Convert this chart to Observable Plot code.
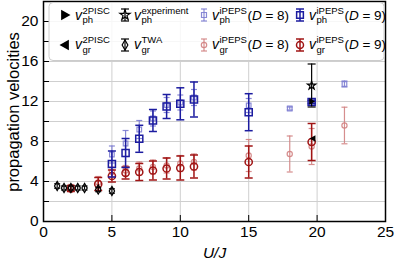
<!DOCTYPE html>
<html><head><meta charset="utf-8">
<script src="https://cdn.jsdelivr.net/npm/d3@7"></script>
<script src="https://cdn.jsdelivr.net/npm/@observablehq/plot@0.6"></script>
<style>
body{margin:0;background:#fff;}
svg{font-family:"Liberation Sans",Arial,sans-serif;}
g[aria-label="x-axis label"] text{font-style:italic;}
</style>
</head><body><div id="chart"></div>
<script>
// ---- data ----
const U_ph_D9 = [5, 6, 7, 8, 9, 10, 11, 15, 19.6];
const v_ph_D9 = [5.75, 6.85, 8.27, 10.1, 11.5, 11.77, 12.2, 10.93, 11.95];
const e_ph_D9 = [1.3, 1.45, 1.35, 1.1, 1.2, 1.6, 1.75, 1.85, 0.15];

const U_ph_D8 = [5, 6, 7, 8, 9, 10, 11, 15, 18, 19.6, 22];
const v_ph_D8 = [6.7, 7.8, 9.2, 10.3, 11.65, 11.9, 12.4, 11.6, 11.3, 12.0, 13.75];
const e_ph_D8 = [0.85, 1.3, 0.9, 0.75, 0.75, 0.75, 0.8, 0.7, 0.15, 0.15, 0.3];

const U_gr_D9 = [2, 4, 5, 6, 7, 8, 9, 10, 11, 15, 19.6];
const v_gr_D9 = [3.3, 3.75, 4.55, 4.85, 4.95, 5.1, 5.3, 5.35, 5.5, 5.95, 7.95];
const e_gr_D9 = [0.3, 0.65, 0.6, 0.6, 0.85, 0.95, 1.05, 1.2, 1.15, 1.6, 1.85];

const U_gr_D8 = [2, 4, 5, 6, 7, 8, 9, 10, 11, 15, 18, 19.6, 22];
const v_gr_D8 = [3.4, 3.9, 4.95, 5.1, 5.3, 5.45, 5.6, 5.8, 5.95, 6.6, 6.75, 7.5, 9.6];
const e_gr_D8 = [0.3, 0.6, 0.5, 0.5, 0.65, 0.7, 0.75, 0.8, 0.8, 1.6, 1.8, 1.8, 1.83];

const U_TWA = [1, 1.5, 2, 2.5, 3, 4, 5];
const v_TWA = [3.55, 3.35, 3.35, 3.35, 3.35, 3.2, 3.05];
const e_TWA = [0.22, 0.2, 0.2, 0.2, 0.2, 0.22, 0.22];

const U_exp = [19.6];
const v_exp = [13.6];
const e_exp = [2.15];

const U_ph_2PISC = [19.6];
const v_ph_2PISC = [12.0];
const U_gr_2PISC = [19.7];
const v_gr_2PISC = [8.3];

const xTicks = [0, 5, 10, 15, 20, 25];
const xGrid = [5, 10, 15, 20];
const yTicks = [0, 4, 8, 12, 16, 20];
const yGrid = [2, 4, 6, 8, 10, 12, 14, 16, 18, 20];

// ---- colours ----
const C_D9_ph = "#1c1ca0", C_D8_ph = "#7d7dd2";
const C_D9_gr = "#a01414", C_D8_gr = "#d28282";

const rows = (U, v, e) => U.map((u, i) => ({u, v: v[i], lo: e ? v[i] - e[i] : v[i], hi: e ? v[i] + e[i] : v[i]}));

// custom symbols
const hbar = {draw(c, s) { const w = Math.sqrt(s / Math.PI); c.moveTo(-w, 0); c.lineTo(w, 0); }};
const triR = {draw(c, s) { const r = Math.sqrt(s / Math.PI); c.moveTo(r, 0); c.lineTo(-r * 0.7, -r * 0.95); c.lineTo(-r * 0.7, r * 0.95); c.closePath(); }};
const triL = {draw(c, s) { const r = Math.sqrt(s / Math.PI); c.moveTo(-r, 0); c.lineTo(r * 0.7, -r * 0.95); c.lineTo(r * 0.7, r * 0.95); c.closePath(); }};

function errMarks(data, color, capR, sw, symbol, r, opacity = 1) {
  return [
    Plot.ruleX(data, {x: "u", y1: "lo", y2: "hi", stroke: color, strokeWidth: sw, strokeOpacity: opacity}),
    Plot.dot(data, {x: "u", y: "lo", symbol: hbar, r: capR, stroke: color, strokeWidth: sw, strokeOpacity: opacity}),
    Plot.dot(data, {x: "u", y: "hi", symbol: hbar, r: capR, stroke: color, strokeWidth: sw, strokeOpacity: opacity}),
    Plot.dot(data, {x: "u", y: "v", symbol, r, stroke: color, strokeWidth: sw, fill: "none", strokeOpacity: opacity})
  ];
}

const W = 395, H = 263, mL = 43, mR = 10, mT = 1, mB = 42;
const fw = W - mL - mR, fh = H - mT - mB;

const chart = Plot.plot({
  width: W, height: H,
  marginLeft: mL, marginRight: mR, marginTop: mT, marginBottom: mB,
  style: {fontSize: "15px", fontFamily: "Liberation Sans, Arial, sans-serif", color: "black", background: "white"},
  x: {domain: [0, 25]},
  y: {domain: [0, 22]},
  marks: [
    Plot.gridY(yGrid, {stroke: "#cfcfcf", strokeOpacity: 1}),
    Plot.gridX(xGrid, {stroke: "#cfcfcf", strokeOpacity: 1}),
    Plot.tickY(yGrid, {y: d => d, stroke: "black", insetRight: fw - 6}),
    Plot.tickX(xTicks, {x: d => d, stroke: "black", insetTop: fh - 6}),
    Plot.axisY(yTicks, {tickSize: 0, tickPadding: 5, label: null, fontSize: 15.5}),
    Plot.axisX(xTicks, {tickSize: 0, tickPadding: 4, label: "U/J", labelAnchor: "center", labelArrow: "none", labelOffset: 36, fontSize: 15.5}),
    ...errMarks(rows(U_gr_D8, v_gr_D8, e_gr_D8), C_D8_gr, 3, 1.2, "circle", 2.6, 0.9),
    ...errMarks(rows(U_ph_D8, v_ph_D8, e_ph_D8), C_D8_ph, 3, 1.2, "square", 2.6, 0.9),
    ...errMarks(rows(U_gr_D9, v_gr_D9, e_gr_D9), C_D9_gr, 4, 1.5, "circle", 3.6),
    ...errMarks(rows(U_ph_D9, v_ph_D9, e_ph_D9), C_D9_ph, 4, 1.5, "square", 4),
    ...errMarks(rows(U_TWA, v_TWA, e_TWA), "black", 3, 1.2, "diamond", 2.8),
    ...errMarks(rows(U_exp, v_exp, e_exp), "black", 4, 1.2, "star", 2.6),
    Plot.dot(rows(U_ph_2PISC, v_ph_2PISC), {x: "u", y: "v", symbol: triR, r: 3.5, fill: "black"}),
    Plot.dot(rows(U_gr_2PISC, v_gr_2PISC), {x: "u", y: "v", symbol: triL, r: 3.5, fill: "black"}),
    Plot.frame({stroke: "black", strokeWidth: 1.5})
  ]
});
document.getElementById("chart").appendChild(chart);

const svg = d3.select(chart);
// y-axis title
svg.append("text").attr("transform", `translate(${19},${(mT + H - mB) / 2 + 1}) rotate(-90)`)
  .attr("text-anchor", "middle").attr("font-size", 16.5).attr("fill", "black").text("propagation velocities");

// ---- legend (inside the frame, top) ----
const legendItems = [
  {col: 0, row: 0, sym: "triR", sup: "2PISC", sub: "ph", tail: null},
  {col: 0, row: 1, sym: "triL", sup: "2PISC", sub: "gr", tail: null},
  {col: 1, row: 0, sym: "star", sup: "experiment", sub: "ph", tail: null},
  {col: 1, row: 1, sym: "diamond", sup: "TWA", sub: "gr", tail: null},
  {col: 2, row: 0, sym: "sqD8", sup: "iPEPS", sub: "ph", tail: "8"},
  {col: 2, row: 1, sym: "ciD8", sup: "iPEPS", sub: "gr", tail: "8"},
  {col: 3, row: 0, sym: "sqD9", sup: "iPEPS", sub: "ph", tail: "9"},
  {col: 3, row: 1, sym: "ciD9", sup: "iPEPS", sub: "gr", tail: "9"}
];
const colSym = [65, 125, 204, 300], colText = [75, 134, 212, 309];
const rowSym = [15, 45], rowBase = [19.5, 49];

const L = svg.append("g").attr("font-family", "Liberation Sans, Arial, sans-serif").attr("text-anchor", "start").attr("fill", "black");
L.append("rect").attr("x", 49).attr("y", 2.5).attr("width", 335).attr("height", 58).attr("rx", 4)
  .attr("fill", "white").attr("fill-opacity", 0.82).attr("stroke", "#cccccc").attr("stroke-width", 1);

function errGlyph(g, cx, cy, color, half, capW, sw, op) {
  g.append("line").attr("x1", cx).attr("x2", cx).attr("y1", cy - half).attr("y2", cy + half).attr("stroke", color).attr("stroke-width", sw).attr("stroke-opacity", op);
  for (const s of [-1, 1]) g.append("line").attr("x1", cx - capW).attr("x2", cx + capW).attr("y1", cy + s * half).attr("y2", cy + s * half).attr("stroke", color).attr("stroke-width", sw).attr("stroke-opacity", op);
}
function symPath(type, r) { return d3.symbol(type, Math.PI * r * r)(); }

for (const it of legendItems) {
  const cx = colSym[it.col], cy = rowSym[it.row];
  const g = L.append("g");
  if (it.sym === "triR" || it.sym === "triL") {
    g.append("path").attr("d", symPath(it.sym === "triR" ? triR : triL, 5.5)).attr("transform", `translate(${cx},${cy})`).attr("fill", "black");
  } else {
    let color, type, r, op = 1, sw = 1.2, capW = 3;
    if (it.sym === "star") { color = "black"; type = d3.symbolStar; r = 3.2; capW = 4; }
    if (it.sym === "diamond") { color = "black"; type = d3.symbolDiamond; r = 3; capW = 4; }
    if (it.sym === "sqD8") { color = C_D8_ph; type = d3.symbolSquare; r = 2.8; op = 0.9; }
    if (it.sym === "ciD8") { color = C_D8_gr; type = d3.symbolCircle; r = 2.7; op = 0.9; }
    if (it.sym === "sqD9") { color = C_D9_ph; type = d3.symbolSquare; r = 3.8; sw = 1.5; capW = 4; }
    if (it.sym === "ciD9") { color = C_D9_gr; type = d3.symbolCircle; r = 3.5; sw = 1.5; capW = 4; }
    errGlyph(g, cx, cy, color, 6, capW, sw, op);
    g.append("path").attr("d", symPath(type, r)).attr("transform", `translate(${cx},${cy})`)
      .attr("fill", "none").attr("stroke", color).attr("stroke-width", sw).attr("stroke-opacity", op);
  }
  const x = colText[it.col], y = rowBase[it.row];
  const tv = g.append("text").attr("x", x).attr("y", y).attr("font-size", 14).attr("font-style", "italic").text("v");
  const sx = x + tv.node().getComputedTextLength() + 0.5;
  const ts = g.append("text").attr("x", sx).attr("y", y - 6).attr("font-size", 9.5).text(it.sup);
  const tb = g.append("text").attr("x", sx).attr("y", y + 3.5).attr("font-size", 9.5).text(it.sub);
  if (it.tail) {
    const w2 = Math.max(ts.node().getComputedTextLength(), tb.node().getComputedTextLength());
    const tt = g.append("text").attr("x", sx + w2 + 0.5).attr("y", y).attr("font-size", 13.5);
    tt.append("tspan").text("(");
    tt.append("tspan").attr("font-style", "italic").text("D");
    tt.append("tspan").text(" = " + it.tail + ")");
  }
}
</script>
</body></html>
